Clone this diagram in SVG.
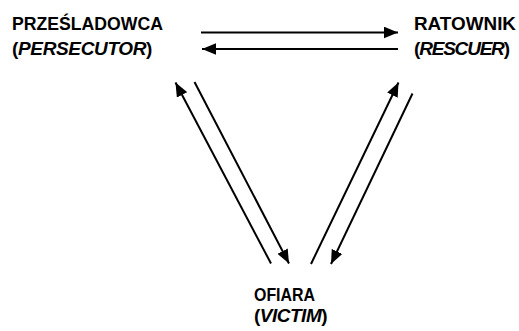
<svg xmlns="http://www.w3.org/2000/svg" width="519" height="331" viewBox="0 0 519 331">
<style>
.t{font-family:"Liberation Sans",Arial,sans-serif;font-weight:bold;font-size:19px;fill:#000}
.i{font-style:italic}
.c{stroke:#000;stroke-width:2;fill:none}
</style>
<defs>
<marker id="ah" markerUnits="userSpaceOnUse" markerWidth="14" markerHeight="12" refX="12" refY="5" orient="auto" viewBox="0 0 12 10">
<path d="M0,0 L12,5 L0,10 Z" fill="#000"/>
</marker>
</defs>
<rect width="519" height="331" fill="#fff"/>
<g id="persecutor">
<text class="t" x="12" y="30" textLength="151" lengthAdjust="spacingAndGlyphs">PRZEŚLADOWCA</text>
<text class="t" x="12" y="54.5" letter-spacing="-0.35">(<tspan class="i">PERSECUTOR</tspan>)</text>
</g>
<g id="rescuer">
<text class="t" x="414" y="30" textLength="102" lengthAdjust="spacingAndGlyphs">RATOWNIK</text>
<text class="t" x="414" y="54.5" letter-spacing="-1.2">(<tspan class="i">RESCUER</tspan>)</text>
</g>
<g id="victim">
<text class="t" x="254" y="301" textLength="61" lengthAdjust="spacingAndGlyphs">OFIARA</text>
<text class="t" x="254" y="322" letter-spacing="-0.5">(<tspan class="i">VICTIM</tspan>)</text>
</g>
<g id="connectors">
<line class="c" x1="201" y1="32.5" x2="398" y2="32.5" marker-end="url(#ah)"/>
<line class="c" x1="398" y1="49" x2="202" y2="49" marker-end="url(#ah)"/>
<line class="c" x1="271" y1="263.5" x2="175.5" y2="82.5" marker-end="url(#ah)"/>
<line class="c" x1="194.5" y1="82" x2="289" y2="263.5" marker-end="url(#ah)"/>
<line class="c" x1="311" y1="264" x2="398.5" y2="82.5" marker-end="url(#ah)"/>
<line class="c" x1="412.5" y1="93.5" x2="331" y2="264" marker-end="url(#ah)"/>
</g>
</svg>
